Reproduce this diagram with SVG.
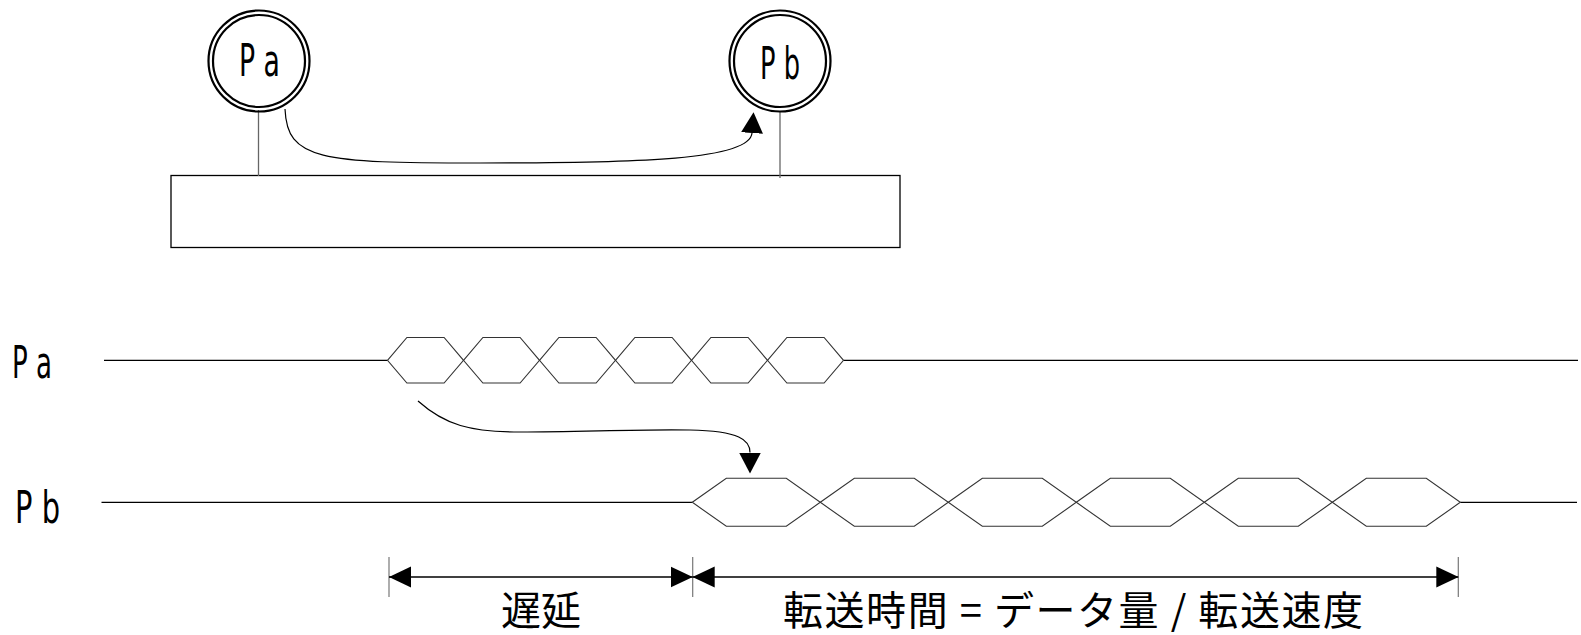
<svg xmlns="http://www.w3.org/2000/svg" width="1581" height="635" viewBox="0 0 1581 635">
<style>
.bg{fill:#fff}
.ring{fill:none;stroke:#000;stroke-width:2.2}
.lbl{font-family:"DejaVu Sans","Liberation Sans",sans-serif;font-size:44px;fill:#000}
.jp{font-family:"Noto Sans CJK JP","Noto Sans CJK SC",sans-serif;font-size:40px;fill:#000}
.stem{stroke:#666;stroke-width:1.3;fill:none}
.box{fill:none;stroke:#000;stroke-width:1.3}
.sig{stroke:#000;stroke-width:1.3;fill:none}
.hex{fill:none;stroke:#333;stroke-width:1.1}
.conn{fill:none;stroke:#000;stroke-width:1.2}
.tick{stroke:#777;stroke-width:1.2}
.dim{stroke:#000;stroke-width:1.3;fill:none}
</style>
<defs>
<marker id="curveHead" markerUnits="userSpaceOnUse" markerWidth="22" markerHeight="22" refX="0" refY="10" orient="auto" viewBox="0 0 20 20">
<path d="M0,0 L19,10 L0,20 Z" fill="#000"/>
</marker>
<marker id="dimHead" markerUnits="userSpaceOnUse" markerWidth="22" markerHeight="22" refX="21" refY="10" orient="auto-start-reverse" viewBox="0 0 21 20">
<path d="M0,0 L21,10 L0,20 Z" fill="#000"/>
</marker>
</defs>
<rect class="bg" x="0" y="0" width="1581" height="635"/>

<g id="bus">
<rect class="box" x="171" y="175.5" width="729" height="72"/>
</g>

<g id="node-pa">
<line class="stem" x1="258.5" y1="110" x2="258.5" y2="176"/>
<circle class="ring" cx="259" cy="61" r="50.5"/>
<circle class="ring" cx="259" cy="61" r="46"/>
<text class="lbl" x="239" y="76" textLength="41" lengthAdjust="spacingAndGlyphs">P a</text>
</g>

<g id="node-pb">
<line class="stem" x1="780" y1="112" x2="780" y2="178"/>
<circle class="ring" cx="780" cy="61" r="50.5"/>
<circle class="ring" cx="780" cy="61" r="46"/>
<text class="lbl" x="760" y="79" textLength="40" lengthAdjust="spacingAndGlyphs">P b</text>
</g>

<g id="signal-pa">
<text class="lbl" x="12" y="378" textLength="40" lengthAdjust="spacingAndGlyphs">P a</text>
<line class="sig" x1="104" y1="360.3" x2="387.5" y2="360.3"/>
<line class="sig" x1="843.5" y1="360.3" x2="1578" y2="360.3"/>
<polygon class="hex" points="387.5,360.3 406.9,337.5 444.1,337.5 463.5,360.3 444.1,383 406.9,383"/>
<polygon class="hex" points="463.5,360.3 482.9,337.5 520.1,337.5 539.5,360.3 520.1,383 482.9,383"/>
<polygon class="hex" points="539.5,360.3 558.9,337.5 596.1,337.5 615.5,360.3 596.1,383 558.9,383"/>
<polygon class="hex" points="615.5,360.3 634.9,337.5 672.1,337.5 691.5,360.3 672.1,383 634.9,383"/>
<polygon class="hex" points="691.5,360.3 710.9,337.5 748.1,337.5 767.5,360.3 748.1,383 710.9,383"/>
<polygon class="hex" points="767.5,360.3 786.9,337.5 824.1,337.5 843.5,360.3 824.1,383 786.9,383"/>
</g>

<g id="signal-pb">
<text class="lbl" x="15" y="523" textLength="45" lengthAdjust="spacingAndGlyphs">P b</text>
<line class="sig" x1="101.5" y1="502.3" x2="692.3" y2="502.3"/>
<line class="sig" x1="1460.3" y1="502.3" x2="1577" y2="502.3"/>
<polygon class="hex" points="692.3,502.3 726.3,478.3 786.3,478.3 820.3,502.3 786.3,526.3 726.3,526.3"/>
<polygon class="hex" points="820.3,502.3 854.3,478.3 914.3,478.3 948.3,502.3 914.3,526.3 854.3,526.3"/>
<polygon class="hex" points="948.3,502.3 982.3,478.3 1042.3,478.3 1076.3,502.3 1042.3,526.3 982.3,526.3"/>
<polygon class="hex" points="1076.3,502.3 1110.3,478.3 1170.3,478.3 1204.3,502.3 1170.3,526.3 1110.3,526.3"/>
<polygon class="hex" points="1204.3,502.3 1238.3,478.3 1298.3,478.3 1332.3,502.3 1298.3,526.3 1238.3,526.3"/>
<polygon class="hex" points="1332.3,502.3 1366.3,478.3 1426.3,478.3 1460.3,502.3 1426.3,526.3 1366.3,526.3"/>
</g>

<g id="connectors">
<path class="conn" d="M285,109 C287,160 320,163 480,163 C640,163 750,160 752,133" marker-end="url(#curveHead)"/>
<path class="conn" d="M418,401 C445,425 470,432 520,432 C580,432 640,429 690,430 C740,431 750,440 750,452.5" marker-end="url(#curveHead)"/>
</g>

<g id="dimensions">
<line class="tick" x1="389" y1="557" x2="389" y2="597"/>
<line class="tick" x1="692.7" y1="557" x2="692.7" y2="597"/>
<line class="tick" x1="1458.3" y1="557" x2="1458.3" y2="597"/>
<line class="dim" x1="389" y1="577" x2="692.7" y2="577" marker-start="url(#dimHead)" marker-end="url(#dimHead)"/>
<line class="dim" x1="692.7" y1="577" x2="1458.3" y2="577" marker-start="url(#dimHead)" marker-end="url(#dimHead)"/>
<text class="jp" x="541" y="625" text-anchor="middle">遅延</text>
<text class="jp" x="1073" y="625" text-anchor="middle" textLength="580">転送時間 = データ量 / 転送速度</text>
</g>
</svg>
